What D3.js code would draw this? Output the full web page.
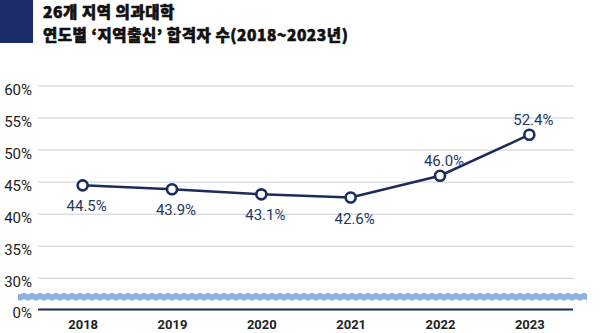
<!DOCTYPE html>
<html><head><meta charset="utf-8">
<script src="https://cdn.jsdelivr.net/npm/d3@7"></script>
<style>
html,body{margin:0;padding:0;background:#fff;}
svg{display:block;}
</style></head>
<body>
<svg id="c" width="600" height="333"></svg>
<script>
const titleLines = ["26개 지역 의과대학", "연도별 ‘지역출신’ 합격자 수(2018~2023년)"];
const years = ["2018", "2019", "2020", "2021", "2022", "2023"];
const values = [44.5, 43.9, 43.1, 42.6, 46.0, 52.4];
const labels = ["44.5%", "43.9%", "43.1%", "42.6%", "46.0%", "52.4%"];
const labelAbove = [false, false, false, false, true, true];
const yTicks = [0, 30, 35, 40, 45, 50, 55, 60];

const navy = "#1b2b5e";
const svg = d3.select("#c");

// title block
svg.append("rect").attr("x", 0).attr("y", 0).attr("width", 33).attr("height", 43).attr("fill", "#1b2a6b");
const title = svg.append("text")
  .attr("font-family", "'Noto Sans CJK KR'").attr("font-weight", 900)
  .attr("font-size", 15.5).attr("letter-spacing", 0.55)
  .attr("stroke", "#111").attr("stroke-width", 0.6)
  .attr("fill", "#111");
title.selectAll("tspan").data(titleLines).join("tspan")
  .attr("x", 43).attr("y", (d, i) => 18 + i * 22.6).text(d => d);

const x = d3.scalePoint().domain(years).range([38, 574]).padding(0.5);
const y = d3.scaleLinear().domain([0, 30, 60]).range([309.5, 278.3, 86]);

// gridlines + y labels
const yAxis = d3.axisLeft(y).tickValues(yTicks).tickFormat(d => d + "%").tickSize(0).tickPadding(6);
const gy = svg.append("g").attr("transform", "translate(38,0)").call(yAxis);
gy.select(".domain").remove();
gy.selectAll("text").attr("font-family", "Roboto").attr("font-size", 15).attr("fill", "#222").attr("dy", "0.55em");

svg.append("g").selectAll("line").data(yTicks.filter(d => d > 0)).join("line")
  .attr("x1", 38).attr("x2", 574).attr("y1", d => y(d)).attr("y2", d => y(d))
  .attr("stroke", "#c9cdd4").attr("stroke-width", 1);

// baseline
svg.append("line").attr("x1", 38).attr("x2", 573).attr("y1", y(0)).attr("y2", y(0))
  .attr("stroke", navy).attr("stroke-width", 2);

// axis break wavy band
(function(){
  const x0 = 18, x1 = 587, top = 293.5, bot = 300, period = 8, amp = 0.8;
  let p = "";
  for (let xx = x0; xx <= x1; xx += 1) {
    const yy = top + amp * Math.sin((xx - x0) / period * 2 * Math.PI);
    p += (xx === x0 ? "M" : "L") + xx + "," + yy.toFixed(2);
  }
  for (let xx = x1; xx >= x0; xx -= 1) {
    const yy = bot + amp * Math.sin((xx - x0) / period * 2 * Math.PI);
    p += "L" + xx + "," + yy.toFixed(2);
  }
  p += "Z";
  svg.append("path").attr("d", p).attr("fill", "#8eb0e2");
})();

// x labels
const xAxis = d3.axisBottom(x).tickSize(0).tickPadding(0);
const gx = svg.append("g").attr("transform", "translate(0,320)").call(xAxis);
gx.select(".domain").remove();
gx.selectAll("text").attr("font-family", "Roboto").attr("font-weight", 700)
  .attr("font-size", 13).attr("fill", "#222").attr("dy", "0.7em");

// line
const data = years.map((yr, i) => ({yr, v: values[i], lab: labels[i], up: labelAbove[i]}));
svg.append("path").datum(data)
  .attr("d", d3.line().x(d => x(d.yr)).y(d => y(d.v)))
  .attr("fill", "none").attr("stroke", navy).attr("stroke-width", 2.5);

svg.append("g").selectAll("circle").data(data).join("circle")
  .attr("cx", d => x(d.yr)).attr("cy", d => y(d.v)).attr("r", 5)
  .attr("fill", "#fff").attr("stroke", navy).attr("stroke-width", 2.6);

svg.append("g").selectAll("text").data(data).join("text")
  .attr("x", d => x(d.yr) + 4)
  .attr("y", d => y(d.v) + (d.up ? -10 : 26))
  .attr("text-anchor", "middle")
  .attr("font-family", "Roboto").attr("font-size", 15)
  .attr("fill", "#243763").text(d => d.lab);
</script>
</body></html>
